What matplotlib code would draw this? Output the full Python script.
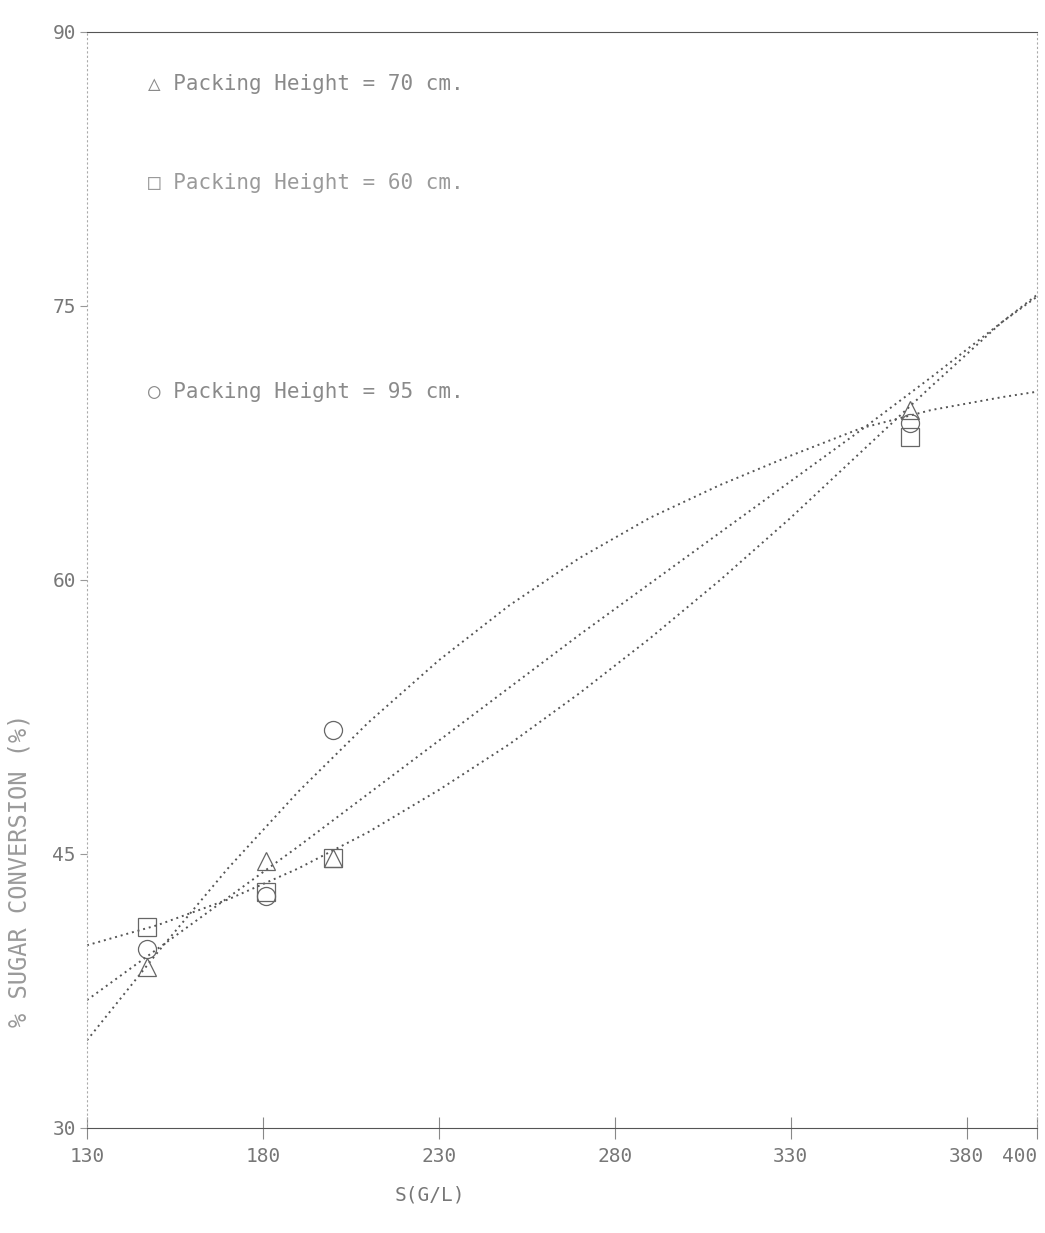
import matplotlib.pyplot as plt
import numpy as np

# fitted curves
s_fit = [130, 150, 170, 190, 210, 230, 250, 270, 290, 310, 330, 350, 370, 390, 400]
fit_70 = [37.0, 39.8, 42.6, 45.4, 48.3, 51.2, 54.1, 57.0, 59.8, 62.6, 65.4, 68.2, 71.1, 74.1, 75.5]
fit_60 = [40.0, 41.1, 42.5, 44.2, 46.2, 48.5, 51.0, 53.8, 56.8, 60.0, 63.4, 67.0, 70.6, 74.1, 75.6]
fit_95 = [34.8, 39.6, 44.2, 48.4, 52.2, 55.6, 58.6, 61.2, 63.4, 65.2, 66.8, 68.3, 69.3, 70.0, 70.3]

# measured points
s_meas = [147, 181, 200, 364]
meas_70 = [38.8, 44.6, 44.8, 69.3]
meas_60 = [41.0, 42.9, 44.8, 67.8]
meas_95 = [39.8, 42.7, 51.8, 68.6]

x_ticks = [130, 180, 230, 280, 330, 380, 400]
y_ticks = [30, 45, 60, 75, 90]

mono = ['DejaVu Sans Mono', 'DejaVu Sans']
grey = '#777777'

fig = plt.figure(figsize=(10.45, 12.33), dpi=100)
ax = fig.add_axes([0.0833, 0.0852, 0.909, 0.889])

dots = (0, (1, 2))
ax.plot(s_fit, fit_70, color='#555555', lw=1.4, ls=dots)
ax.plot(s_fit, fit_60, color='#555555', lw=1.4, ls=dots)
ax.plot(s_fit, fit_95, color='#555555', lw=1.4, ls=dots)

mk = dict(ls='none', mfc='none', mec='#666666', mew=0.9, ms=13)
ax.plot(s_meas, meas_70, marker='^', **mk)
ax.plot(s_meas, meas_60, marker='s', **mk)
ax.plot(s_meas, meas_95, marker='o', **mk)

ax.set_xlim(130, 400)
ax.set_ylim(30, 90)
ax.set_xticks(x_ticks)
ax.set_yticks(y_ticks)
ax.set_xticklabels([str(v) for v in x_ticks], family=mono, fontsize=14, color=grey)
ax.set_yticklabels([str(v) for v in y_ticks], family=mono, fontsize=14, color=grey)
ax.get_xticklabels()[-1].set_ha('right')
ax.tick_params(axis='x', direction='inout', length=16, width=0.8, color='#888888', pad=6)
ax.tick_params(axis='y', direction='out', length=5, width=0.8, color='#999999', pad=3)

ax.spines['top'].set_color('#555555')
ax.spines['top'].set_linestyle((0, (6, 1)))
ax.spines['bottom'].set_color('#555555')
ax.spines['bottom'].set_linestyle((0, (6, 1)))
for side in ['left', 'right']:
    ax.spines[side].set_color('#aaaaaa')
    ax.spines[side].set_linestyle((0, (1, 3)))

# legend entries as loose text
ax.text(0.064, 0.952, '\u25b3 Packing Height = 70 cm.', transform=ax.transAxes,
        family=mono, fontsize=15, color='#8a8a8a', va='center')
ax.text(0.064, 0.862, '\u25a1 Packing Height = 60 cm.', transform=ax.transAxes,
        family=mono, fontsize=15, color='#9a9a9a', va='center')
ax.text(0.064, 0.671, '\u25cb Packing Height = 95 cm.', transform=ax.transAxes,
        family=mono, fontsize=15, color='#8a8a8a', va='center')

fig.text(0.411, 0.031, 'S(G/L)', family=mono, fontsize=14, color=grey, ha='center', va='center')
fig.text(0.019, 0.294, '% SUGAR CONVERSION (%)', family=mono, fontsize=17, color='#9a9a9a',
         rotation=90, ha='center', va='center')

fig.savefig('out.png', dpi=100)
